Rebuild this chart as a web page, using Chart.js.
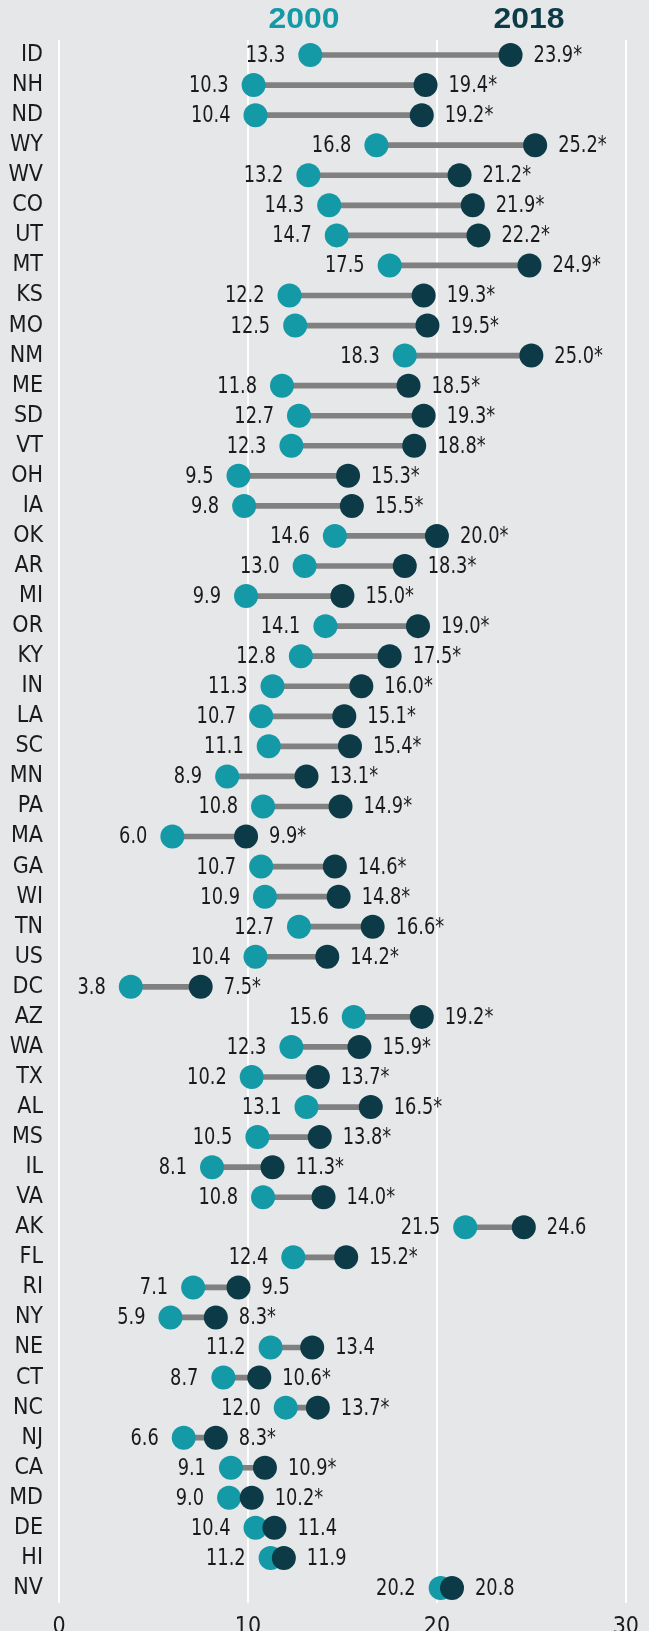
<!DOCTYPE html>
<html>
<head>
<meta charset="utf-8">
<script src="https://cdn.jsdelivr.net/npm/chart.js@4"></script>
<style>
  html, body { margin: 0; padding: 0; background: #e6e7e9; overflow: hidden; }
  #wrap { width: 649px; height: 1631px; overflow: hidden; }
</style>
</head>
<body>
<div id="wrap"><canvas id="dumbbell" width="649" height="1660"></canvas></div>
<script>
// states, top to bottom
var states = ["ID","NH","ND","WY","WV","CO","UT","MT","KS","MO","NM","ME","SD","VT","OH","IA","OK","AR","MI","OR","KY","IN","LA","SC","MN","PA","MA","GA","WI","TN","US","DC","AZ","WA","TX","AL","MS","IL","VA","AK","FL","RI","NY","NE","CT","NC","NJ","CA","MD","DE","HI","NV"];
var rate2000 = [13.3,10.3,10.4,16.8,13.2,14.3,14.7,17.5,12.2,12.5,18.3,11.8,12.7,12.3,9.5,9.8,14.6,13.0,9.9,14.1,12.8,11.3,10.7,11.1,8.9,10.8,6.0,10.7,10.9,12.7,10.4,3.8,15.6,12.3,10.2,13.1,10.5,8.1,10.8,21.5,12.4,7.1,5.9,11.2,8.7,12.0,6.6,9.1,9.0,10.4,11.2,20.2];
var rate2018 = [23.9,19.4,19.2,25.2,21.2,21.9,22.2,24.9,19.3,19.5,25.0,18.5,19.3,18.8,15.3,15.5,20.0,18.3,15.0,19.0,17.5,16.0,15.1,15.4,13.1,14.9,9.9,14.6,14.8,16.6,14.2,7.5,19.2,15.9,13.7,16.5,13.8,11.3,14.0,24.6,15.2,9.5,8.3,13.4,10.6,13.7,8.3,10.9,10.2,11.4,11.9,20.8];
// 1 = change marked with asterisk
var signif = [1,1,1,1,1,1,1,1,1,1,1,1,1,1,1,1,1,1,1,1,1,1,1,1,1,1,1,1,1,1,1,1,1,1,1,1,1,1,1,0,1,0,1,0,1,1,1,1,1,0,0,0];
var xTicks = [0,10,20,30];

var teal = "#1499a6";
var dark = "#0c3b47";
var narrow = "'Liberation Sans Narrow', 'DejaVu Sans Condensed', sans-serif";

var connectors = [];
for (var i = 0; i < states.length; i++) {
  connectors.push([rate2000[i], rate2018[i]]);
}

// squeeze text sideways (no condensed font available)
function squeezeText(ctx, txt, x, y, sx) {
  ctx.save();
  ctx.translate(x, y);
  ctx.scale(sx, 1);
  ctx.fillText(txt, 0, 0);
  ctx.restore();
}

// value labels next to the dots
var valueLabels = {
  id: "valueLabels",
  afterDatasetsDraw: function(chart) {
    var ctx = chart.ctx;
    ctx.save();
    ctx.font = "23px " + narrow;
    ctx.fillStyle = "#1a1a1a";
    ctx.textBaseline = "middle";
    var m18 = chart.getDatasetMeta(0);
    var m00 = chart.getDatasetMeta(1);
    ctx.textAlign = "right";
    m00.data.forEach(function(pt, i) {
      squeezeText(ctx, rate2000[i].toFixed(1), pt.x - 25, pt.y + 1, 0.86);
    });
    ctx.textAlign = "left";
    m18.data.forEach(function(pt, i) {
      squeezeText(ctx, rate2018[i].toFixed(1) + (signif[i] ? "*" : ""), pt.x + 23, pt.y + 1, 0.86);
    });
    ctx.restore();
  }
};

var headers = {
  id: "headers",
  afterDraw: function(chart) {
    var ctx = chart.ctx;
    ctx.save();
    ctx.font = "bold 29px 'Liberation Sans', Arial, sans-serif";
    ctx.textAlign = "center";
    ctx.textBaseline = "middle";
    ctx.fillStyle = teal;
    squeezeText(ctx, "2000", 304, 20, 1.1);
    ctx.fillStyle = dark;
    squeezeText(ctx, "2018", 529, 20, 1.1);
    ctx.restore();
  }
};

var bg = {
  id: "bg",
  beforeDraw: function(chart) {
    var ctx = chart.ctx;
    ctx.save();
    ctx.fillStyle = "#e6e7e9";
    ctx.fillRect(0, 0, chart.width, chart.height);
    ctx.restore();
  }
};

var ctxD = document.getElementById("dumbbell").getContext("2d");
var myChart = new Chart(ctxD, {
  type: "bar",
  data: {
    labels: states,
    datasets: [{
      type: "line",
      label: "2018",
      data: rate2018,
      indexAxis: "y",
      showLine: false,
      pointRadius: 12,
      pointBackgroundColor: dark,
      pointBorderWidth: 0,
      order: 0
    }, {
      type: "line",
      label: "2000",
      data: rate2000,
      indexAxis: "y",
      showLine: false,
      pointRadius: 12,
      pointBackgroundColor: teal,
      pointBorderWidth: 0,
      order: 1
    }, {
      type: "bar",
      label: "change",
      data: connectors,
      backgroundColor: "#808080",
      barThickness: 5,
      order: 2
    }]
  },
  options: {
    indexAxis: "y",
    responsive: false,
    animation: false,
    layout: { padding: { top: 40, right: 13, left: 0, bottom: 0 } },
    plugins: { legend: { display: false }, tooltip: { enabled: false } },
    scales: {
      x: {
        type: "linear",
        position: "bottom",
        min: 0,
        max: 30,
        afterBuildTicks: function(scale) {
          scale.ticks = xTicks.map(function(v) { return { value: v }; });
        },
        afterFit: function(scale) { scale.height = 57; },
        grid: { color: "#ffffff", lineWidth: 2, drawTicks: false },
        border: { display: false },
        ticks: { color: "#1a1a1a", padding: 10, font: { family: narrow, size: 23 } }
      },
      y: {
        type: "category",
        offset: true,
        afterFit: function(scale) { scale.width = 59; },
        grid: { display: false, drawTicks: false },
        border: { display: false },
        ticks: { color: "#1a1a1a", padding: 16, autoSkip: false, font: { family: narrow, size: 23 } }
      }
    }
  },
  plugins: [bg, valueLabels, headers]
});
</script>
</body>
</html>
